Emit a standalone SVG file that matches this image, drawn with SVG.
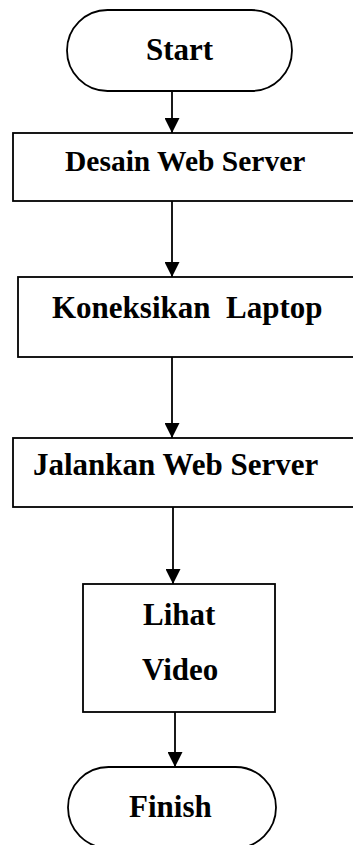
<svg xmlns="http://www.w3.org/2000/svg" width="353" height="845" viewBox="0 0 353 845">
<style>
.shape{fill:#fff;stroke:#000;stroke-width:1.8}
.lbl{font-family:"Liberation Serif","Times New Roman",serif;font-weight:bold;font-size:31px;fill:#000}
.conn{stroke:#000;stroke-width:1.8;fill:none}
</style>
<defs>
<marker id="arr" markerWidth="15" markerHeight="15" refX="15" refY="7.5" orient="auto" markerUnits="userSpaceOnUse">
<path d="M0,0 L15,7.5 L0,15 Z" fill="#000"/>
</marker>
</defs>
<rect width="353" height="845" fill="#fff"/>
<g id="connectors">
<line class="conn" x1="172" y1="91" x2="172" y2="133" marker-end="url(#arr)"/>
<line class="conn" x1="172" y1="201" x2="172" y2="277" marker-end="url(#arr)"/>
<line class="conn" x1="172" y1="357" x2="172" y2="438" marker-end="url(#arr)"/>
<line class="conn" x1="173" y1="507" x2="173" y2="584" marker-end="url(#arr)"/>
<line class="conn" x1="175" y1="712" x2="175" y2="767" marker-end="url(#arr)"/>
</g>
<g id="start">
<rect class="shape" x="67" y="10" width="225" height="81" rx="40.5" ry="40.5"/>
<text class="lbl" x="146" y="59.5">Start</text>
</g>
<g id="desain">
<rect class="shape" x="13" y="133" width="360" height="68"/>
<text class="lbl" x="65" y="171" style="font-size:29.5px">Desain Web Server</text>
</g>
<g id="koneksikan">
<rect class="shape" x="18" y="277" width="360" height="80"/>
<text class="lbl" x="52" y="318" xml:space="preserve">Koneksikan  Laptop</text>
</g>
<g id="jalankan">
<rect class="shape" x="13" y="438" width="360" height="69"/>
<text class="lbl" x="33" y="475">Jalankan Web Server</text>
</g>
<g id="lihat">
<rect class="shape" x="83" y="584" width="192" height="128"/>
<text class="lbl" x="143" y="625">Lihat</text>
<text class="lbl" x="142" y="680">Video</text>
</g>
<g id="finish">
<rect class="shape" x="68" y="767" width="208" height="81" rx="40.5" ry="40.5"/>
<text class="lbl" x="129" y="817">Finish</text>
</g>
</svg>
